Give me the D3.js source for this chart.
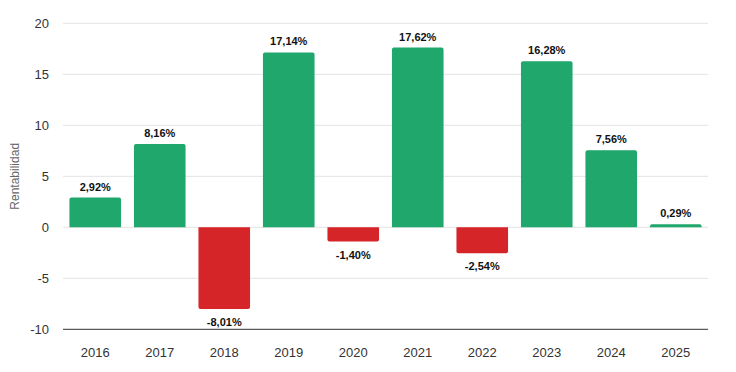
<!DOCTYPE html>
<html>
<head>
<meta charset="utf-8">
<script src="https://cdn.jsdelivr.net/npm/d3@7"></script>
<style>
  body { margin: 0; background: #fff; }
  text { font-family: "Liberation Sans", Arial, sans-serif; }
</style>
</head>
<body>
<svg id="chart" width="736" height="372"></svg>
<script>
// yearly returns
var years = ['2016', '2017', '2018', '2019', '2020', '2021', '2022', '2023', '2024', '2025'];
var returns = [2.92, 8.16, -8.01, 17.14, -1.40, 17.62, -2.54, 16.28, 7.56, 0.29];
var yTicks = [-10, -5, 0, 5, 10, 15, 20];

var svg = d3.select('#chart'),
    margin = {top: 23.3, right: 28, bottom: 42.7, left: 63},
    width = 736 - margin.left - margin.right,
    height = 372 - margin.top - margin.bottom,
    g = svg.append('g').attr('transform', 'translate(' + margin.left + ',' + margin.top + ')');

var x = d3.scaleBand().domain(years).range([0, width]).paddingInner(0.2).paddingOuter(0.1);
var y = d3.scaleLinear().domain([-10, 20]).range([height, 0]);

var fmt = function (v) { return v.toFixed(2).replace('.', ',') + '%'; };

// grid lines
g.selectAll('.grid').data(yTicks.filter(function (t) { return t !== -10; }))
    .enter().append('line')
    .attr('x1', 0).attr('x2', width)
    .attr('y1', function (d) { return y(d); }).attr('y2', function (d) { return y(d); })
    .attr('stroke', '#e3e3e3').attr('stroke-width', 1);

// y tick labels
g.selectAll('.ytick').data(yTicks).enter().append('text')
    .attr('x', -14).attr('y', function (d) { return y(d); })
    .attr('dy', '0.35em').attr('text-anchor', 'end')
    .attr('font-size', 13).attr('fill', '#333')
    .text(function (d) { return d; });

// bars with slightly rounded outer corners
var r = 2;
var barPath = function (d, i) {
    var x0 = x(years[i]), w = x.bandwidth(), y0 = y(0), y1 = y(d);
    if (d >= 0) {
        return 'M' + x0 + ',' + y0 + 'V' + (y1 + r) + 'Q' + x0 + ',' + y1 + ' ' + (x0 + r) + ',' + y1 +
            'H' + (x0 + w - r) + 'Q' + (x0 + w) + ',' + y1 + ' ' + (x0 + w) + ',' + (y1 + r) + 'V' + y0 + 'Z';
    }
    return 'M' + x0 + ',' + y0 + 'V' + (y1 - r) + 'Q' + x0 + ',' + y1 + ' ' + (x0 + r) + ',' + y1 +
        'H' + (x0 + w - r) + 'Q' + (x0 + w) + ',' + y1 + ' ' + (x0 + w) + ',' + (y1 - r) + 'V' + y0 + 'Z';
};

g.selectAll('.bar').data(returns).enter().append('path')
    .attr('d', barPath)
    .attr('fill', function (d) { return d >= 0 ? '#1fa76c' : '#d62528'; });

// value labels
g.selectAll('.lbl').data(returns).enter().append('text')
    .attr('x', function (d, i) { return x(years[i]) + x.bandwidth() / 2; })
    .attr('y', function (d) { return d >= 0 ? y(d) - 7 : y(d) + 17; })
    .attr('text-anchor', 'middle')
    .attr('font-size', 11).attr('font-weight', 'bold').attr('fill', '#111')
    .text(fmt);

// bottom axis line
g.append('line')
    .attr('x1', 0).attr('x2', width)
    .attr('y1', height).attr('y2', height)
    .attr('stroke', '#333').attr('stroke-width', 1);

// x labels
g.selectAll('.xlbl').data(years).enter().append('text')
    .attr('x', function (d) { return x(d) + x.bandwidth() / 2; })
    .attr('y', height + 23)
    .attr('dy', '0.35em')
    .attr('text-anchor', 'middle')
    .attr('font-size', 13).attr('fill', '#333')
    .text(function (d) { return d; });

// y axis title
svg.append('text')
    .attr('transform', 'translate(19,' + (margin.top + y(5)) + ') rotate(-90)')
    .attr('text-anchor', 'middle')
    .attr('font-size', 12).attr('fill', '#666')
    .text('Rentabilidad');
</script>
</body>
</html>
